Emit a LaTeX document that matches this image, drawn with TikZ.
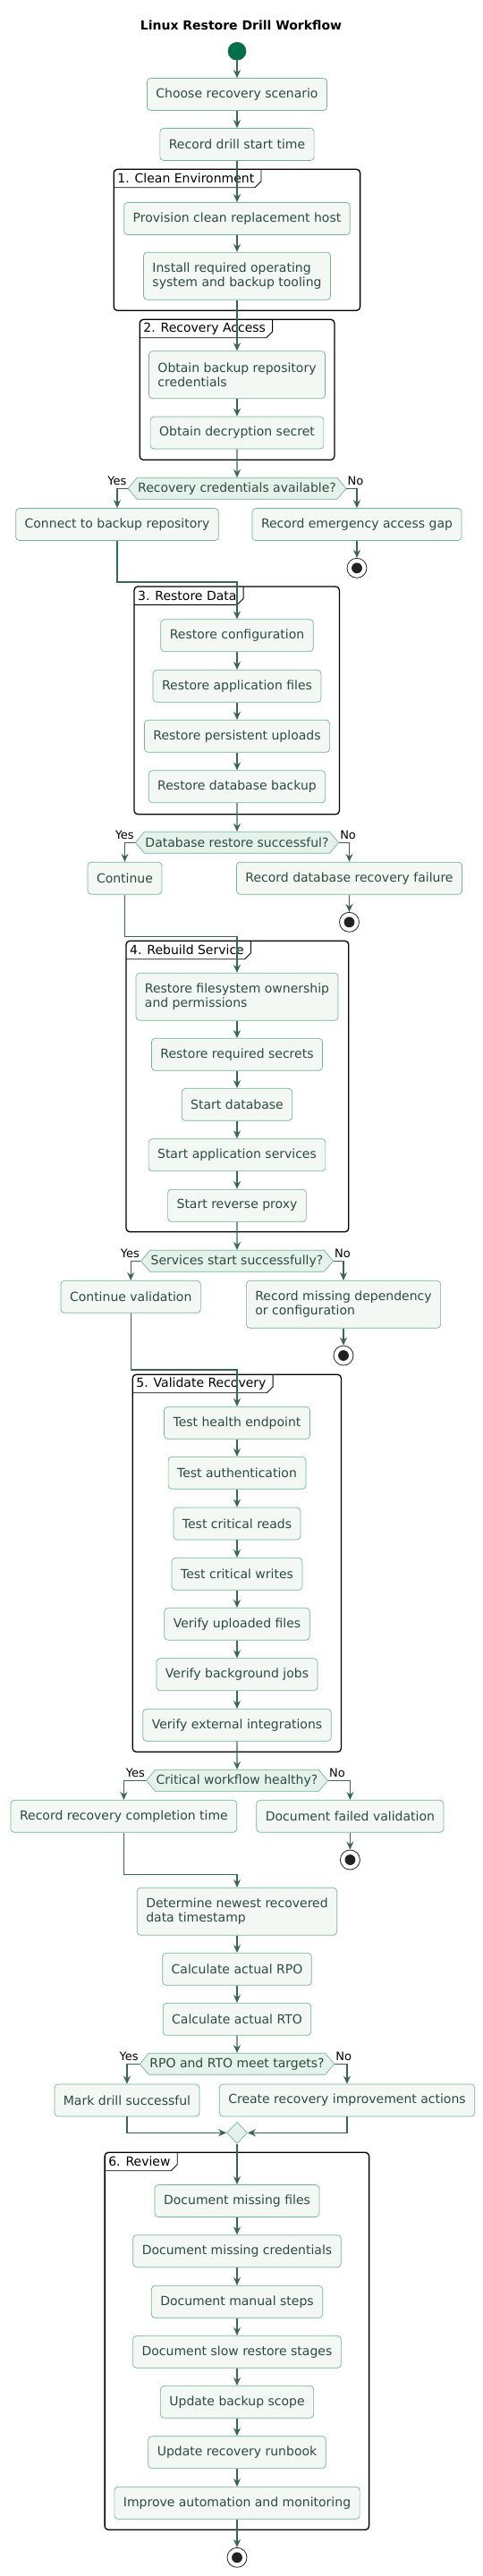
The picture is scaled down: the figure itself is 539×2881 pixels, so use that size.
\documentclass[tikz,border=0pt]{standalone}
\usepackage{fontspec}
\setmainfont{DejaVu Sans}
\usetikzlibrary{arrows.meta,shapes.geometric,shapes.symbols}
\definecolor{actfill}{HTML}{F3F8F5}
\definecolor{actline}{HTML}{71B496}
\definecolor{acttext}{HTML}{2B4B3F}
\definecolor{decfill}{HTML}{E5F2EB}
\definecolor{flowcol}{HTML}{3A6654}
\definecolor{startcol}{HTML}{00704A}
\definecolor{stopcol}{HTML}{222222}
\begin{document}
\begin{tikzpicture}[x=1pt, y=-1pt,
  act/.style={draw=actline, fill=actfill, line width=0.7pt, rounded corners=4pt, text=acttext, font=\fontsize{14}{16.5}\selectfont, inner xsep=10pt, minimum height=36pt},
  act2/.style={act, align=left, minimum height=53pt},
  quest/.style={shape=signal, signal to=west and east, signal pointer angle=100, draw=actline, fill=decfill, line width=0.7pt, text=acttext, font=\fontsize{14}{16.5}\selectfont, inner xsep=1pt, inner ysep=0pt, minimum height=24pt},
  merge/.style={diamond, draw=actline, fill=decfill, line width=0.7pt, inner sep=0pt, minimum width=23pt, minimum height=24pt},
  startn/.style={circle, draw=flowcol, fill=startcol, line width=0.7pt, inner sep=0pt, minimum size=20pt},
  stopn/.style={circle, draw=stopcol, fill=white, line width=0.8pt, inner sep=0pt, minimum size=22pt, path picture={\fill[stopcol] (path picture bounding box.center) circle (5.9pt);}},
  flow/.style={draw=flowcol, line width=1.4pt, -{Stealth[length=9pt,width=8pt,inset=3pt]}},
  grp/.style={draw=black, line width=1.3pt, rounded corners=4pt},
  tab/.style={draw=black, line width=0.9pt},
  grplbl/.style={anchor=north west, font=\fontsize{14}{16.5}\selectfont, inner xsep=4pt, inner ysep=0pt, minimum height=20pt},
  lbl/.style={font=\fontsize{13}{15}\selectfont, inner sep=1pt}]
\useasboundingbox (0,0) rectangle (539,2881);
\node[font=\fontsize{14}{16.5}\selectfont\bfseries] (title) at (269.5,28) {Linux Restore Drill Workflow};

% groups
\draw[grp] (127.2,189.3) rectangle (402.6,347.3);
\node[grplbl] (g1) at (127.2,189.3) {1. Clean Environment};
\draw[tab] (g1.south west) -- ([xshift=-3.5pt]g1.south east) -- ([xshift=3.5pt,yshift=7pt]g1.south east) -- ([xshift=3.5pt]g1.north east);
\draw[grp] (156.2,357.3) rectangle (373.9,514.3);
\node[grplbl] (g2) at (156.2,357.3) {2. Recovery Access};
\draw[tab] (g2.south west) -- ([xshift=-3.5pt]g2.south east) -- ([xshift=3.5pt,yshift=7pt]g2.south east) -- ([xshift=3.5pt]g2.north east);
\draw[grp] (150,656) rectangle (379.4,910.7);
\node[grplbl] (g3) at (150,656) {3. Restore Data};
\draw[tab] (g3.south west) -- ([xshift=-3.5pt]g3.south east) -- ([xshift=3.5pt,yshift=7pt]g3.south east) -- ([xshift=3.5pt]g3.north east);
\draw[grp] (141,1052.3) rectangle (389.8,1377.7);
\node[grplbl] (g4) at (141,1052.3) {4. Rebuild Service};
\draw[tab] (g4.south west) -- ([xshift=-3.5pt]g4.south east) -- ([xshift=3.5pt,yshift=7pt]g4.south east) -- ([xshift=3.5pt]g4.north east);
\draw[grp] (148.2,1537.3) rectangle (381.5,1959.3);
\node[grplbl] (g5) at (148.2,1537.3) {5. Validate Recovery};
\draw[tab] (g5.south west) -- ([xshift=-3.5pt]g5.south east) -- ([xshift=3.5pt,yshift=7pt]g5.south east) -- ([xshift=3.5pt]g5.north east);
\draw[grp] (117.1,2407.3) rectangle (412.6,2829.3);
\node[grplbl] (g6) at (117.1,2407.3) {6. Review};
\draw[tab] (g6.south west) -- ([xshift=-3.5pt]g6.south east) -- ([xshift=3.5pt,yshift=7pt]g6.south east) -- ([xshift=3.5pt]g6.north east);

% main column
\node[startn] (start) at (265,57.3) {};
\node[act] (b1) at (265,105.5) {Choose recovery scenario};
\node[act] (b2) at (265,161.5) {Record drill start time};
\node[act] (b3) at (265,244.5) {Provision clean replacement host};
\node[act2] (b4) at (265,308.7) {Install required operating\\system and backup tooling};
\node[act2] (b5) at (265,419.2) {Obtain backup repository\\credentials};
\node[act] (b6) at (265,484) {Obtain decryption secret};
\node[quest] (d1) at (265,546.3) {Recovery credentials available?};
\node[act] (b7) at (131,586.5) {Connect to backup repository};
\node[act] (b8) at (399,586.5) {Record emergency access gap};
\node[stopn] (s1) at (b8 |- 0,635.3) {};
\coordinate (j1) at (265,651);
\node[act] (b9) at (265,710.8) {Restore configuration};
\node[act] (b10) at (265,767.3) {Restore application files};
\node[act] (b11) at (265,823.3) {Restore persistent uploads};
\node[act] (b12) at (265,879.8) {Restore database backup};
\node[quest] (d2) at (265,942.3) {Database restore successful?};
\node[act] (b13) at (139.5,982.2) {Continue};
\node[act] (b14) at (390.5,982.2) {Record database recovery failure};
\node[stopn] (s2) at (b14 |- 0,1031.3) {};
\coordinate (j2) at (265,1047.3);
\node[act2] (b15) at (265,1114.7) {Restore filesystem ownership\\and permissions};
\node[act] (b16) at (265,1179.3) {Restore required secrets};
\node[act] (b17) at (265,1235.3) {Start database};
\node[act] (b18) at (265,1291.7) {Start application services};
\node[act] (b19) at (265,1348.2) {Start reverse proxy};
\node[quest] (d3) at (265,1410.3) {Services start successfully?};
\node[act] (b20) at (146.2,1450.3) {Continue validation};
\node[act2] (b21) at (384,1458.8) {Record missing dependency\\or configuration};
\node[stopn] (s3) at (b21 |- 0,1516) {};
\coordinate (j3) at (265,1532);
\node[act] (b22) at (265,1591.3) {Test health endpoint};
\node[act] (b23) at (265,1647.3) {Test authentication};
\node[act] (b24) at (265,1704) {Test critical reads};
\node[act] (b25) at (265,1760.3) {Test critical writes};
\node[act] (b26) at (265,1816.3) {Verify uploaded files};
\node[act] (b27) at (265,1872.8) {Verify background jobs};
\node[act] (b28) at (265,1929.3) {Verify external integrations};
\node[quest] (d4) at (265,1991.3) {Critical workflow healthy?};
\node[act] (b29) at (138.4,2031.3) {Record recovery completion time};
\node[act] (b30) at (391.4,2031.3) {Document failed validation};
\node[stopn] (s4) at (b30 |- 0,2080) {};
\coordinate (j4) at (265,2096.3);
\node[act2] (b31) at (265,2137.8) {Determine newest recovered\\data timestamp};
\node[act] (b32) at (265,2202.3) {Calculate actual RPO};
\node[act] (b33) at (265,2258.3) {Calculate actual RTO};
\node[quest] (d5) at (265,2308.3) {RPO and RTO meet targets?};
\node[act] (b34) at (142,2349) {Mark drill successful};
\node[act] (b35) at (388,2349) {Create recovery improvement actions};
\node[merge] (m1) at (265,2385.3) {};
\node[act] (b36) at (265,2461.5) {Document missing files};
\node[act] (b37) at (265,2517.7) {Document missing credentials};
\node[act] (b38) at (265,2574.3) {Document manual steps};
\node[act] (b39) at (265,2630.3) {Document slow restore stages};
\node[act] (b40) at (265,2686.3) {Update backup scope};
\node[act] (b41) at (265,2742.7) {Update recovery runbook};
\node[act] (b42) at (265,2799.3) {Improve automation and monitoring};
\node[stopn] (fin) at (265,2860.3) {};

% straight arrows
\foreach \a/\b in {start/b1, b1/b2, b2/b3, b3/b4, b4/b5, b5/b6, b6/d1, b8/s1,
    b9/b10, b10/b11, b11/b12, b12/d2, b14/s2,
    b15/b16, b16/b17, b17/b18, b18/b19, b19/d3, b21/s3,
    b22/b23, b23/b24, b24/b25, b25/b26, b26/b27, b27/b28, b28/d4, b30/s4,
    b31/b32, b32/b33, b33/d5, m1/b36,
    b36/b37, b37/b38, b38/b39, b39/b40, b40/b41, b41/b42, b42/fin}
  \draw[flow] (\a) -- (\b);

% branches
\foreach \d/\y/\n in {d1/b7/b8, d2/b13/b14, d3/b20/b21, d4/b29/b30, d5/b34/b35} {
  \draw[flow] (\d.west) -| (\y);
  \draw[flow] (\d.east) -| (\n);
  \node[lbl, anchor=south east] (\d yes) at ([yshift=2pt]\d.west) {Yes};
  \node[lbl, anchor=south west] (\d no) at ([yshift=2pt]\d.east) {No};
}

% joins
\draw[flow] (b7) |- (j1) -- (b9);
\draw[flow] (b13) |- (j2) -- (b15);
\draw[flow] (b20) |- (j3) -- (b22);
\draw[flow] (b29) |- (j4) -- (b31);
\draw[flow] (b34) |- (m1);
\draw[flow] (b35) |- (m1);
\end{tikzpicture}
\end{document}
